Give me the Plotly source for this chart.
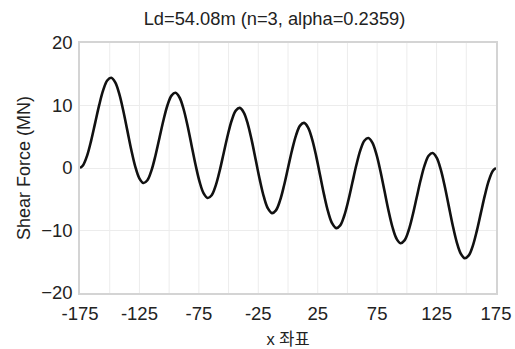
import plotly.graph_objects as go

# x positions (m) and shear force values (MN)
x_vals = [-175.0, -172.38, -169.0, -165.62, -162.24, -158.86, -155.48, -152.1, -148.72, -145.34,
          -141.96, -138.58, -135.2, -131.82, -128.44, -125.06, -121.68, -118.3, -114.92, -111.54,
          -108.16, -104.78, -101.4, -98.02, -94.64, -91.26, -87.88, -84.5, -81.12, -77.74,
          -74.36, -70.98, -67.6, -64.22, -60.84, -57.46, -54.08, -50.7, -47.32, -43.94,
          -40.56, -37.18, -33.8, -30.42, -27.04, -23.66, -20.28, -16.9, -13.52, -10.14,
          -6.76, -3.38, 0.0,
          3.38, 6.76, 10.14, 13.52, 16.9, 20.28, 23.66, 27.04, 30.42, 33.8,
          37.18, 40.56, 43.94, 47.32, 50.7, 54.08, 57.46, 60.84, 64.22, 67.6,
          70.98, 74.36, 77.74, 81.12, 84.5, 87.88, 91.26, 94.64, 98.02, 101.4,
          104.78, 108.16, 111.54, 114.92, 118.3, 121.68, 125.06, 128.44, 131.82, 135.2,
          138.58, 141.96, 145.34, 148.72, 152.1, 155.48, 158.86, 162.24, 165.62, 169.0,
          172.38, 175.0]
shear_vals = [0.0, 0.45, 1.99, 4.38, 7.22, 10.06, 12.45, 13.99, 14.44, 13.69,
              11.85, 9.16, 6.02, 2.88, 0.19, -1.66, -2.41, -1.96, -0.42, 1.97,
              4.81, 7.65, 10.04, 11.58, 12.03, 11.28, 9.44, 6.75, 3.61, 0.47,
              -2.22, -4.06, -4.81, -4.36, -2.82, -0.43, 2.41, 5.25, 7.64, 9.18,
              9.62, 8.87, 7.03, 4.34, 1.20, -1.94, -4.63, -6.47, -7.22, -6.77,
              -5.23, -2.84, 0.0,
              2.84, 5.23, 6.77, 7.22, 6.47, 4.63, 1.94, -1.20, -4.34, -7.03,
              -8.87, -9.62, -9.18, -7.64, -5.25, -2.41, 0.43, 2.82, 4.36, 4.81,
              4.06, 2.22, -0.47, -3.61, -6.75, -9.44, -11.28, -12.03, -11.58, -10.04,
              -7.65, -4.81, -1.97, 0.42, 1.96, 2.41, 1.66, -0.19, -2.88, -6.02,
              -9.16, -11.85, -13.69, -14.44, -13.99, -12.45, -10.06, -7.22, -4.38, -1.99,
              -0.45, 0.0]

x_ticks = [-175, -125, -75, -25, 25, 75, 125, 175]
y_ticks = [-20, -10, 0, 10, 20]
x_grid = [-150, -125, -100, -75, -50, -25, 0, 25, 50, 75, 100, 125, 150]

title_text = "Ld=54.08m (n=3, alpha=0.2359)"
x_title = "x 좌표"
y_title = "Shear Force (MN)"

FONT = "Liberation Sans, Arial, Noto Sans CJK KR, sans-serif"

fig = go.Figure()
fig.add_trace(go.Scatter(
    x=x_vals, y=shear_vals, mode="lines",
    line=dict(color="#111111", width=2.6, shape="spline", smoothing=1.0),
    hoverinfo="skip", showlegend=False,
))

fig.update_layout(
    width=515, height=349,
    margin=dict(l=80, r=19, t=43, b=56, autoexpand=False),
    paper_bgcolor="white", plot_bgcolor="white",
    font=dict(family=FONT, color="#222222", size=18),
    title=dict(text=title_text, x=0.533, xanchor="center", y=0.948, yanchor="middle",
               font=dict(size=18.3, family=FONT, color="#222222")),
    xaxis=dict(
        range=[-175, 175], tickmode="array", tickvals=x_ticks,
        ticktext=[str(v) for v in x_ticks],
        showgrid=False, zeroline=False, automargin=False,
        showline=True, mirror=True, linecolor="#d4d4d4", linewidth=1.5,
        ticks="", ticklabelstandoff=3,
        tickfont=dict(size=18.5),
        title=dict(text=x_title, font=dict(size=16.5, family=FONT), standoff=10),
    ),
    yaxis=dict(
        range=[-20, 20], tickmode="array", tickvals=y_ticks,
        gridcolor="#ececec", gridwidth=1, zeroline=False, automargin=False,
        showline=True, mirror=True, linecolor="#d4d4d4", linewidth=1.5,
        ticks="", ticklabelstandoff=2,
        tickfont=dict(size=18.5),
        title=dict(text=y_title, font=dict(size=18, family=FONT), standoff=6),
    ),
)

# vertical gridlines every 25 units
for gx in x_grid:
    fig.add_shape(type="line", xref="x", yref="paper", x0=gx, x1=gx, y0=0, y1=1,
                  line=dict(color="#ececec", width=1), layer="below")

fig.write_html("out.html")
